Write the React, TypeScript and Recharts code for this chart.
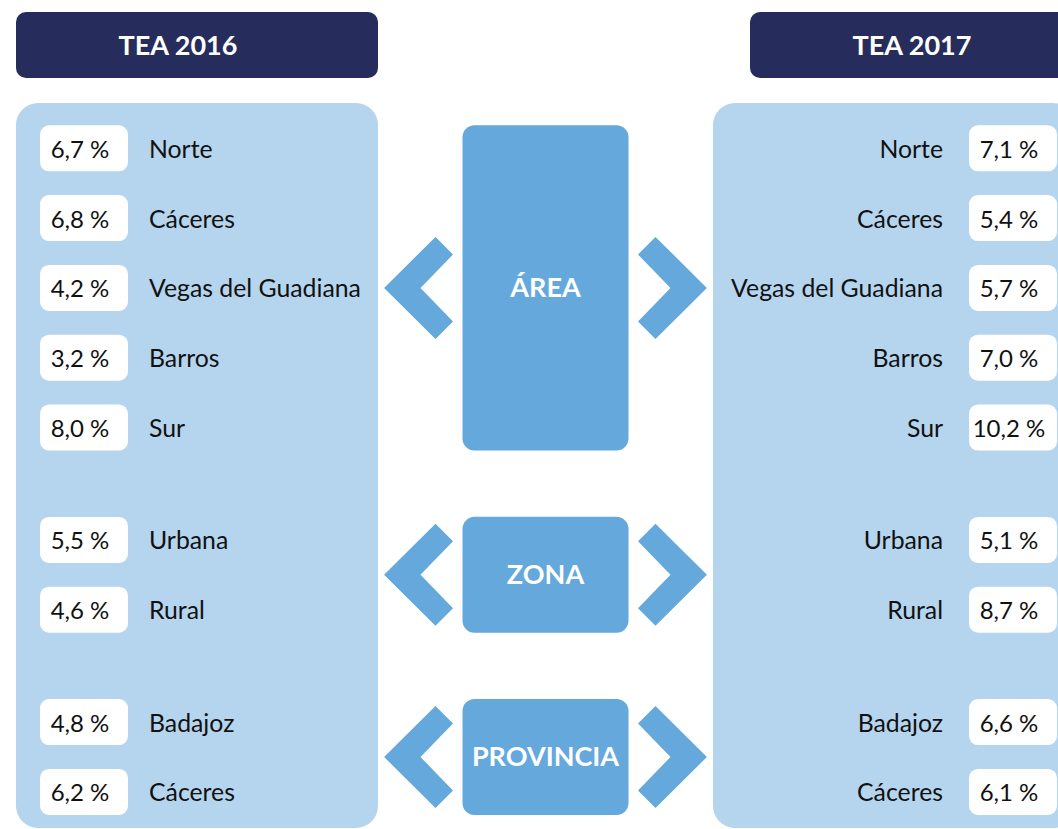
import React from 'react';
import { ScatterChart, Scatter, XAxis, YAxis, ReferenceArea } from 'recharts';

const YEARS = ['TEA 2016', 'TEA 2017'];
const GROUPS = ['ÁREA', 'ZONA', 'PROVINCIA'];
const CATEGORIES = ['Norte', 'Cáceres', 'Vegas del Guadiana', 'Barros', 'Sur', 'Urbana', 'Rural', 'Badajoz', 'Cáceres'];
const CATEGORY_GROUP = [0, 0, 0, 0, 0, 1, 1, 2, 2];
const TEA_2016 = [6.7, 6.8, 4.2, 3.2, 8.0, 5.5, 4.6, 4.8, 6.2];
const TEA_2017 = [7.1, 5.4, 5.7, 7.0, 10.2, 5.1, 8.7, 6.6, 6.1];

const W = 1058;
const H = 829;
const FONT = 'Lato, "Open Sans", sans-serif';
const NAVY = '#262d5c';
const PANEL = '#b5d5ee';
const BLOCK = '#64a8dc';
const INK = '#111111';
// distance (in rows) between the last row of a group and the first row of the next one
const GROUP_STEP = 1.61;

const slots: number[] = [];
CATEGORIES.forEach((_, i) => {
  if (i === 0) slots.push(0);
  else slots.push(slots[i - 1] + (CATEGORY_GROUP[i] === CATEGORY_GROUP[i - 1] ? 1 : GROUP_STEP));
});
const MAX_SLOT = slots[slots.length - 1];

const fmt = (v: number) => `${v.toFixed(1).replace('.', ',')} %`;

const rows2016 = CATEGORIES.map((c, i) => ({ year: 0, slot: slots[i], value: TEA_2016[i], category: c }));
const rows2017 = CATEGORIES.map((c, i) => ({ year: 1, slot: slots[i], value: TEA_2017[i], category: c }));

const groupSpans = GROUPS.map((g, gi) => {
  const s = slots.filter((_, i) => CATEGORY_GROUP[i] === gi);
  return { name: g, first: Math.min(...s), last: Math.max(...s) };
});

const valueBox = (side: 'left' | 'right') => (props: any) => {
  const { cx, cy, payload } = props;
  const labelX = side === 'left' ? cx + 65 : cx - 70;
  return (
    <g>
      <rect x={cx - 44} y={cy - 23} width={88} height={46} rx={9} fill="#ffffff" />
      <text x={cx - 4} y={cy + 9.5} textAnchor="middle" fontSize={24} fill={INK} fontFamily={FONT}>
        {fmt(payload.value)}
      </text>
      <text
        x={labelX}
        y={cy + 9.5}
        textAnchor={side === 'left' ? 'start' : 'end'}
        fontSize={24.8}
        fill={INK}
        fontFamily={FONT}
      >
        {payload.category}
      </text>
    </g>
  );
};

const groupBlock = (name: string) => (props: any) => {
  const { x, y, width, height } = props;
  const cx = x + width / 2 - 3;
  const cy = y + height / 2;
  const L = cx - 83;
  const R = cx + 83;
  const left = [
    [L - 78.4, cy], [L - 27, cy - 51], [L - 9.5, cy - 33.5], [L - 42, cy],
    [L - 9.5, cy + 33.5], [L - 27, cy + 51],
  ];
  const right = [
    [R + 78.4, cy], [R + 27, cy - 51], [R + 9.5, cy - 33.5], [R + 42, cy],
    [R + 9.5, cy + 33.5], [R + 27, cy + 51],
  ];
  return (
    <g>
      <polygon points={left.map((p) => p.join(',')).join(' ')} fill={BLOCK} />
      <polygon points={right.map((p) => p.join(',')).join(' ')} fill={BLOCK} />
      <rect x={L} y={y} width={R - L} height={height} rx={12} fill={BLOCK} />
      <text x={cx} y={cy + 9.5} textAnchor="middle" fontSize={27} fontWeight={700} fill="#ffffff" fontFamily={FONT}>
        {name}
      </text>
    </g>
  );
};

export default function App() {
  return (
    <div style={{ position: 'absolute', left: 0, top: 0, width: W, height: H, overflow: 'hidden', background: '#fff' }}>
      <svg width={W} height={H} style={{ position: 'absolute', left: 0, top: 0 }}>
        <rect x={16} y={12} width={362} height={66} rx={10} fill={NAVY} />
        <rect x={750} y={12} width={362} height={66} rx={10} fill={NAVY} />
        {YEARS.map((t, i) => (
          <text
            key={t}
            x={i === 0 ? 178 : 912}
            y={54.5}
            textAnchor="middle"
            fontSize={27}
            fontWeight={700}
            fill="#ffffff"
            fontFamily={FONT}
          >
            {t}
          </text>
        ))}
        <rect x={16} y={103} width={362} height={725} rx={22} fill={PANEL} />
        <rect x={713} y={103} width={362} height={725} rx={22} fill={PANEL} />
      </svg>
      <div style={{ position: 'absolute', left: 0, top: 0 }}>
        <ScatterChart width={W} height={H} margin={{ top: 148.3, right: 45, bottom: 37.1, left: 84 }}>
          <XAxis type="number" dataKey="year" domain={[0, 1]} hide />
          <YAxis type="number" dataKey="slot" domain={[0, MAX_SLOT]} reversed hide />
          {groupSpans.map((g) => (
            <ReferenceArea
              key={g.name}
              y1={g.first - 0.33}
              y2={g.last + 0.33}
              ifOverflow="visible"
              shape={groupBlock(g.name)}
            />
          ))}
          <Scatter name={YEARS[0]} data={rows2016} shape={valueBox('left')} isAnimationActive={false} />
          <Scatter name={YEARS[1]} data={rows2017} shape={valueBox('right')} isAnimationActive={false} />
        </ScatterChart>
      </div>
    </div>
  );
}
